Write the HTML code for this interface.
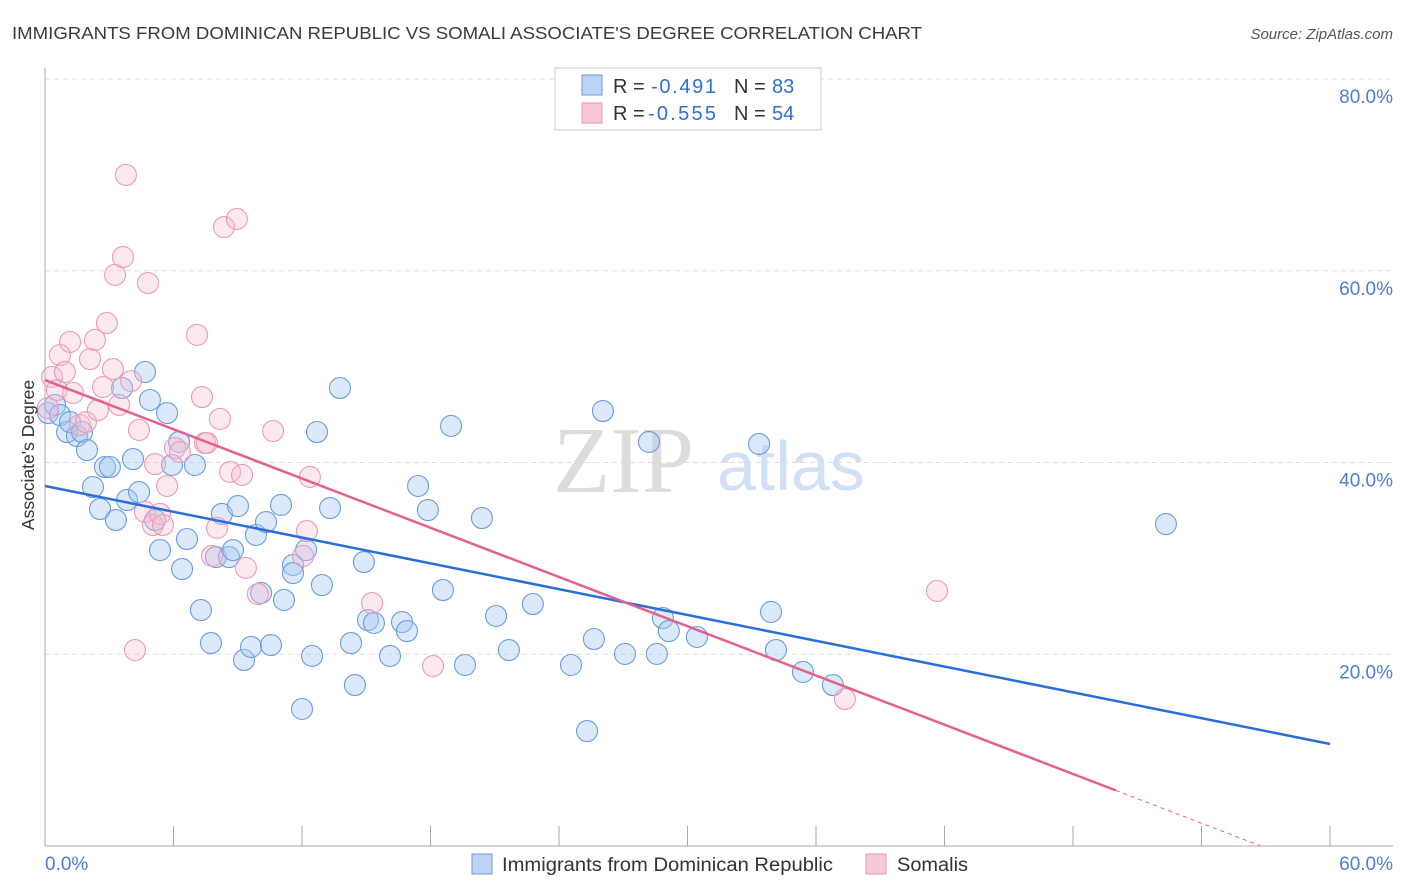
<!DOCTYPE html>
<html><head><meta charset="utf-8"><style>
body{margin:0;background:#fff;font-family:"Liberation Sans",sans-serif;}
svg{display:block}
</style></head><body>
<svg id="chart" width="1406" height="892" xmlns="http://www.w3.org/2000/svg" font-family="Liberation Sans, sans-serif">
<text x="12" y="39" font-size="17.5" fill="#3a3a3a" textLength="910" lengthAdjust="spacingAndGlyphs">IMMIGRANTS FROM DOMINICAN REPUBLIC VS SOMALI ASSOCIATE'S DEGREE CORRELATION CHART</text>
<text x="1393" y="39" font-size="15" fill="#555" font-style="italic" text-anchor="end">Source: ZipAtlas.com</text>
<g>
<text x="553" y="492" font-size="94" font-family="Liberation Serif, serif" fill="#dcdcdc">ZIP</text>
<text x="717" y="490" font-size="70" fill="#d0e0f5">atlas</text>
</g>
<g id="grid"></g>
<g id="axes"></g>
<g id="pts"></g>
<g id="lines"></g>
<text transform="translate(34,455) rotate(-90)" font-size="17.5" fill="#333" text-anchor="middle">Associate's Degree</text>
<g>
<rect x="555" y="68" width="266" height="62" fill="#fff" stroke="#ccc"/>
<rect x="582" y="75" width="20" height="20" fill="#bcd3f5" stroke="#6d9be0"/>
<rect x="582" y="103" width="20" height="20" fill="#f9c8d6" stroke="#eb95b0"/>
<text x="613" y="93" font-size="20" fill="#333">R =</text>
<text x="651" y="93" font-size="20" fill="#2f6fd0" textLength="65">-0.491</text>
<text x="734" y="93" font-size="20" fill="#333">N =</text>
<text x="772" y="93" font-size="20" fill="#2f6fd0">83</text>
<text x="613" y="120" font-size="20" fill="#333">R =</text>
<text x="648" y="120" font-size="20" fill="#2f6fd0" textLength="68">-0.555</text>
<text x="734" y="120" font-size="20" fill="#333">N =</text>
<text x="772" y="120" font-size="20" fill="#2f6fd0">54</text>
</g>
<g>
<rect x="472" y="854" width="20" height="20" fill="#bcd3f5" stroke="#6d9be0"/>
<text x="502" y="871" font-size="19" fill="#333" textLength="331" lengthAdjust="spacingAndGlyphs">Immigrants from Dominican Republic</text>
<rect x="866" y="854" width="20" height="20" fill="#f9c8d6" stroke="#eb95b0"/>
<text x="897" y="871" font-size="19" fill="#333" textLength="71" lengthAdjust="spacingAndGlyphs">Somalis</text>
</g>
</svg>
<script>
const blueX=[0.14,0.47,0.70,1.03,1.17,1.49,1.73,1.96,2.24,2.57,2.80,3.03,3.31,3.60,3.83,4.11,4.39,4.67,4.90,5.14,5.37,5.70,5.93,6.26,6.40,6.63,7.00,7.28,7.75,7.98,8.26,8.59,8.78,9.01,9.29,9.62,9.85,10.09,10.32,10.55,11.02,11.16,11.58,11.58,12.00,12.19,12.47,12.70,12.93,13.31,13.77,14.29,14.47,14.89,15.08,15.36,16.11,16.67,16.90,17.42,17.88,18.58,18.96,19.61,20.40,21.06,21.66,22.78,24.56,25.31,25.63,26.05,27.08,28.20,28.57,28.85,29.13,30.44,33.34,33.90,34.13,35.39,36.79,52.34];
const blueY=[45.16,46.00,44.95,43.18,44.22,42.76,43.18,41.30,37.44,35.15,39.53,39.53,34.00,47.77,36.09,40.36,36.92,49.44,46.52,34.00,30.87,45.16,39.74,42.14,28.89,32.02,39.74,24.61,21.17,30.14,34.63,30.14,30.87,35.46,19.40,20.76,32.44,26.39,33.79,20.96,35.57,25.66,29.31,28.47,14.29,30.87,19.82,43.18,27.22,35.25,47.77,21.17,16.79,29.62,23.57,23.26,19.82,23.36,22.42,37.55,35.04,26.70,43.81,18.88,34.21,23.99,20.44,25.24,18.88,11.99,21.59,45.37,20.03,42.14,20.03,23.78,22.42,21.80,41.93,24.41,20.44,18.15,16.79,33.58];
const pinkX=[0.14,0.33,0.56,0.70,0.93,1.17,1.31,1.63,1.91,2.10,2.33,2.47,2.71,2.89,3.17,3.27,3.46,3.64,3.78,4.02,4.20,4.39,4.67,4.81,5.04,5.14,5.37,5.51,5.70,6.07,6.30,7.10,7.33,7.47,7.56,7.80,8.03,8.17,8.36,8.64,8.96,9.20,9.38,9.94,10.65,12.05,12.23,12.37,15.27,18.12,37.35,41.65];
const pinkY=[45.68,48.92,47.56,51.21,49.44,52.57,47.25,43.91,44.22,50.79,52.78,45.47,47.87,54.55,49.75,59.56,46.00,61.43,69.99,48.50,20.44,43.39,34.84,58.72,33.48,39.84,34.63,33.48,37.55,41.51,41.09,53.30,46.83,42.03,42.03,30.25,33.17,44.54,64.56,39.01,65.40,38.70,29.00,26.28,43.28,30.25,32.85,38.49,25.34,18.77,15.33,26.60];
const blueTrend=[37.55,10.64]; // y at x=0 and x=60
const pinkTrend=[48.6,-0.856]; // intercept, slope
const pinkSolidEnd=50;
const yTicks=[20,40,60,80];
const yTickLabels=["20.0%","40.0%","60.0%","80.0%"];
const xTicks=[0,6,12,18,24,30,36,42,48,54,60];

const NS="http://www.w3.org/2000/svg";
const X=v=>45+v/60*1285;
const Y=v=>846-v/80*767;
function mk(parent,tag,attrs){const e=document.createElementNS(NS,tag);for(const k in attrs)e.setAttribute(k,attrs[k]);document.getElementById(parent).appendChild(e);return e;}

yTicks.forEach((t,i)=>{
  const l=mk('grid','line',{x1:45,x2:1393,y1:Y(t),y2:Y(t),stroke:'#ddd','stroke-dasharray':'5,4'});
  
  
  const tx=mk('grid','text',{x:1393,y:Y(t)+24,'font-size':19,fill:'#4a7fd0','text-anchor':'end'});
  tx.textContent=yTickLabels[i];
  
  
});
mk('axes','line',{x1:45,x2:45,y1:68,y2:846,stroke:'#aaa'});
mk('axes','line',{x1:45,x2:1393,y1:846,y2:846,stroke:'#aaa'});
xTicks.forEach(t=>{
  const l=mk('axes','line',{x1:X(t),x2:X(t),y1:826,y2:846,stroke:'#aaa'});
  
  
});
const xl0=mk('axes','text',{x:45,y:870,'font-size':19,fill:'#4a7fd0'});xl0.textContent='0.0%';


const xl1=mk('axes','text',{x:1393,y:870,'font-size':19,fill:'#4a7fd0','text-anchor':'end'});xl1.textContent='60.0%';



blueX.forEach((x,i)=>{
  const c=mk('pts','circle',{cx:X(x),cy:Y(blueY[i]),r:10.5,fill:'rgba(165,200,242,0.4)',stroke:'#6a9be0','stroke-width':1.1});
  
  
});
pinkX.forEach((x,i)=>{
  const c=mk('pts','circle',{cx:X(x),cy:Y(pinkY[i]),r:10.5,fill:'rgba(247,190,208,0.35)',stroke:'#ec9ab4','stroke-width':1.1});
  
  
});
const bl=mk('lines','line',{x1:X(0),y1:Y(blueTrend[0]),x2:X(60),y2:Y(blueTrend[1]),stroke:'#2a6fd6','stroke-width':2.5});


const pz=-pinkTrend[0]/pinkTrend[1];
const pl=mk('lines','line',{x1:X(0),y1:Y(pinkTrend[0]),x2:X(pinkSolidEnd),y2:Y(pinkTrend[0]+pinkTrend[1]*pinkSolidEnd),stroke:'#e4608f','stroke-width':2.5});


const pd=mk('lines','line',{x1:X(pinkSolidEnd),y1:Y(pinkTrend[0]+pinkTrend[1]*pinkSolidEnd),x2:X(pz),y2:Y(0),stroke:'#e4608f','stroke-width':1,'stroke-dasharray':'4,4'});


</script>
</body></html>
